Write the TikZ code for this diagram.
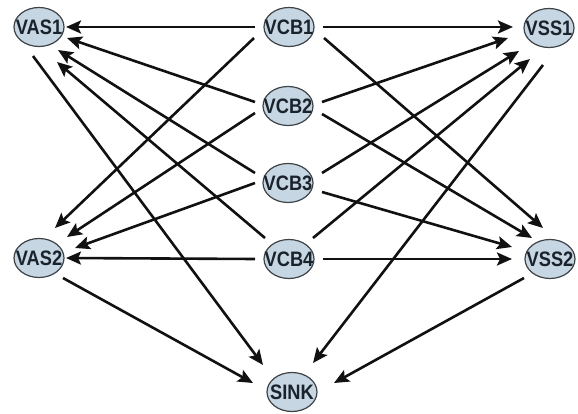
\documentclass[tikz,border=0pt]{standalone}
\usepackage{fontspec}
\setmainfont{Liberation Sans}
\usetikzlibrary{arrows.meta,shapes.geometric}
\definecolor{nodefill}{HTML}{C6D6E2}
\definecolor{nodeline}{HTML}{3E4348}
\definecolor{txt}{HTML}{1A222C}
\definecolor{edge}{HTML}{111111}
\tikzset{
  vnode/.style={ellipse, draw=nodeline, line width=1.2pt, fill=nodefill,
    minimum width=50pt, minimum height=39pt, inner sep=0pt, text=txt,
    font=\fontsize{19}{19}\selectfont\bfseries},
  arr/.style={draw=edge, line width=2.6pt, -{Stealth[length=15pt,width=13pt,inset=3pt]}}
}
\newcommand{\lbl}[1]{\makebox[20pt]{\scalebox{0.96}[1.1]{#1}}}
\begin{document}
\begin{tikzpicture}[x=1pt,y=-1pt]
\useasboundingbox (0,0) rectangle (578,414);
\node[vnode] (VAS1) at (39,27) {\lbl{VAS1}};
\node[vnode] (VCB1) at (289,27) {\lbl{VCB1}};
\node[vnode] (VSS1) at (549,28) {\lbl{VSS1}};
\node[vnode] (VCB2) at (288,106) {\lbl{VCB2}};
\node[vnode] (VCB3) at (288,183) {\lbl{VCB3}};
\node[vnode] (VAS2) at (39,258) {\lbl{VAS2}};
\node[vnode] (VCB4) at (289,259) {\lbl{VCB4}};
\node[vnode] (VSS2) at (550,259) {\lbl{VSS2}};
\node[vnode] (SINK) at (292,392) {\lbl{SINK}};

\draw[arr] ([shift={(-34,0)}]VCB1.center) -- ([shift={(27,0)}]VAS1.center);
\draw[arr] ([shift={(34,0)}]VCB1.center) -- ([shift={(-36,-1)}]VSS1.center);
\draw[arr] ([shift={(-35,11)}]VCB1.center) -- ([shift={(16,-30)}]VAS2.center);
\draw[arr] ([shift={(35,11)}]VCB1.center) -- ([shift={(-7,-31)}]VSS2.center);

\draw[arr] ([shift={(-33,-4)}]VCB2.center) -- ([shift={(28,11)}]VAS1.center);
\draw[arr] ([shift={(34,-4)}]VCB2.center) -- ([shift={(-41,10)}]VSS1.center);
\draw[arr] ([shift={(-33,7)}]VCB2.center) -- ([shift={(28,-21)}]VAS2.center);
\draw[arr] ([shift={(34,8)}]VCB2.center) -- ([shift={(-18,-21)}]VSS2.center);

\draw[arr] ([shift={(-33,-10)}]VCB3.center) -- ([shift={(19,23)}]VAS1.center);
\draw[arr] ([shift={(34,-10)}]VCB3.center) -- ([shift={(-30,23)}]VSS1.center);
\draw[arr] ([shift={(-33,0)}]VCB3.center) -- ([shift={(36,-10)}]VAS2.center);
\draw[arr] ([shift={(34,9)}]VCB3.center) -- ([shift={(-38,-12)}]VSS2.center);

\draw[arr] ([shift={(-24,-21)}]VCB4.center) -- ([shift={(18,35)}]VAS1.center);
\draw[arr] ([shift={(24,-21)}]VCB4.center) -- ([shift={(-19,31)}]VSS1.center);
\draw[arr] ([shift={(-34,0)}]VCB4.center) -- ([shift={(27,0)}]VAS2.center);
\draw[arr] ([shift={(34,0)}]VCB4.center) -- ([shift={(-38,0)}]VSS2.center);

\draw[arr] ([shift={(-6,29)}]VAS1.center) -- ([shift={(-29,-27)}]SINK.center);
\draw[arr] ([shift={(-6,37)}]VSS1.center) -- ([shift={(21,-29)}]SINK.center);
\draw[arr] ([shift={(24,20)}]VAS2.center) -- ([shift={(-39,-9)}]SINK.center);
\draw[arr] ([shift={(-26,19)}]VSS2.center) -- ([shift={(42,-9)}]SINK.center);
\end{tikzpicture}
\end{document}
